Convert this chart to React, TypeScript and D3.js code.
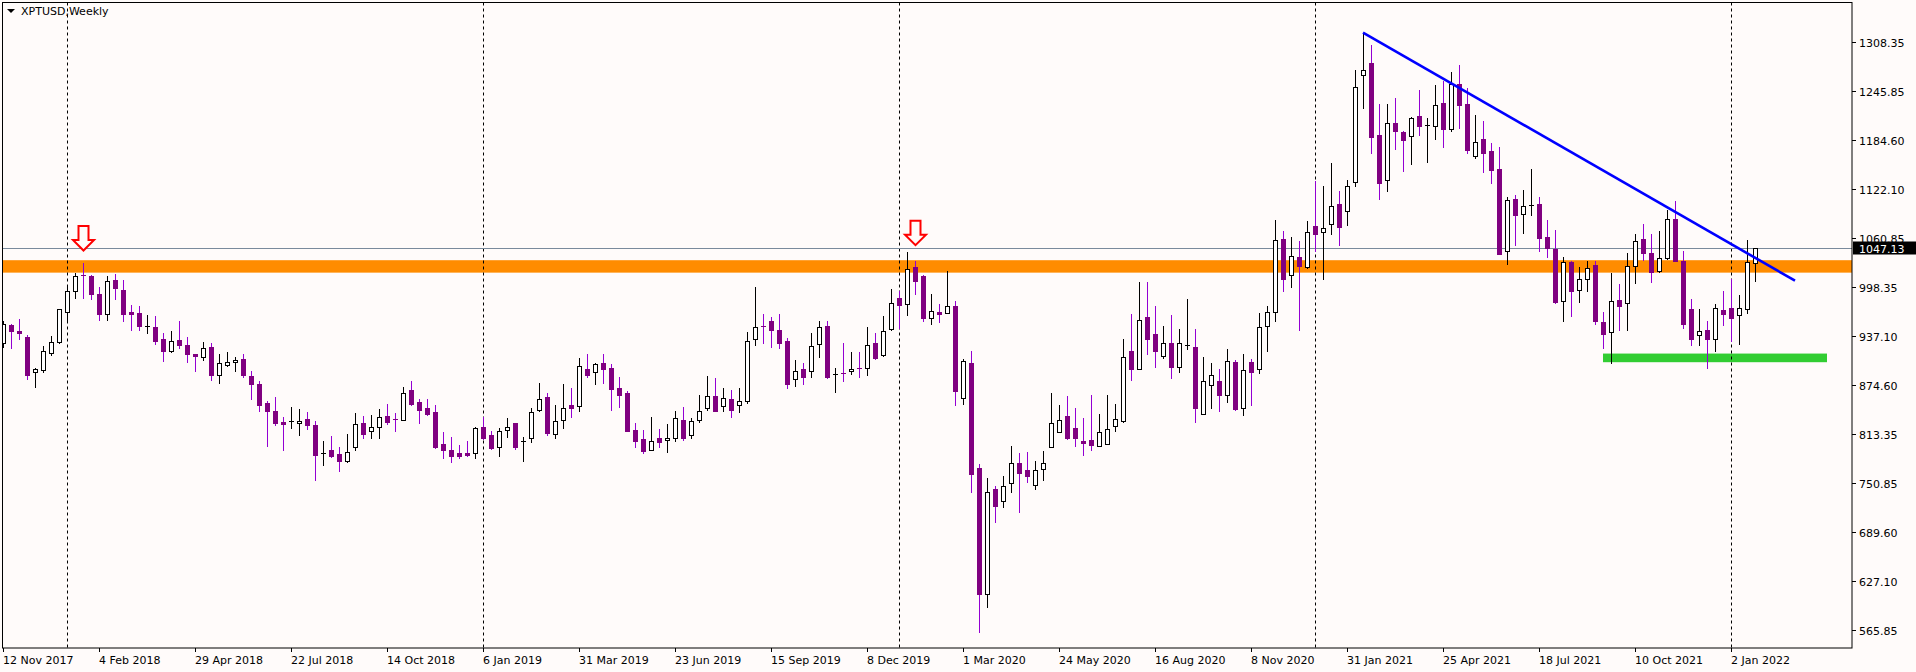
import React from "react";
import * as d3 from "d3";

// Weekly XPTUSD candles starting 12 Nov 2017
const opens = [928,950.6,943.0,935.5,890.6,893.3,914.9,929.5,966.9,992.8,1013.9,1012.3,989.6,964.7,1007.4,994.5,966.3,965.2,949.5,948.5,932.2,917.1,931.1,925.2,913.8,910.6,922.5,886.8,899.7,903.5,907.3,885.7,875.9,852.1,842.4,827.8,828.8,826.1,831.6,824.0,788.3,792.0,787.2,779.1,796.4,827.2,816.4,822.3,835.9,831.6,831.0,868.4,853.8,846.2,840.2,799.6,793.1,788.3,789.3,788.3,821.3,811.5,796.9,817.5,826.1,802.9,807.7,843.5,859.7,812.6,830.5,848.9,847.8,894.9,891.1,901.9,896.0,870.5,864.6,818.0,806.7,792.6,807.2,805.0,807.7,831.0,811.0,830.5,845.6,860.2,847.8,857.5,849.4,854.8,933.3,949.5,955.0,944.1,930.1,881.9,894.3,892.2,926.3,949.5,888.4,890.0,892.2,896.5,896.5,927.9,912.7,945.2,984.7,976.6,1023.1,1012.9,959.8,967.4,965.2,975.0,858.6,903.0,769.3,610.2,743.9,728.7,750.9,776.4,767.2,748.2,768.2,796.4,815.3,835.9,820.7,804.5,805.6,798.0,800.7,822.9,828.8,917.1,895.4,960.4,938.7,911.7,927.9,897.6,925.7,922.5,838.6,874.9,880.3,861.9,903.5,845.1,903.5,894.3,949.5,966.9,1058.9,1013.4,1036.1,1024.2,1075.6,1067.5,1077.8,1102.7,1094.0,1130.8,1266.1,1280.7,1189.8,1133.5,1205.0,1194.2,1188.7,1214.2,1202.8,1202.3,1231.0,1198.5,1254.2,1229.3,1164.4,1185.0,1170.3,1147.1,1043.7,1109.2,1090.2,1102.1,1103.8,1061.6,1047.0,980.4,1029.6,994.5,1009.1,1026.4,953.9,941.4,982.0,977.7,1025.3,1058.9,1041.5,1018.8,1035.1,1083.7,1030.7,971.2,937.6,944.1,932.2,969.6,971.7,963.6,970.1,1028.5];
const highs = [956,952.2,958.2,937.6,896.5,923.6,936.0,971.2,1001.0,1016.1,1029.1,1013.4,998.2,1012.9,1014.5,1007.4,975.5,974.4,962.5,961.4,940.3,943.0,955.0,935.5,914.4,929.5,927.9,914.4,916.0,910.6,913.8,892.2,880.3,854.3,859.7,834.8,846.7,844.0,840.2,829.4,803.4,809.9,796.9,812.6,839.1,835.9,837.0,844.0,850.5,839.7,872.7,879.2,857.5,857.5,849.4,815.3,808.8,799.1,804.5,822.3,834.8,816.4,820.7,833.2,826.7,808.8,845.1,877.6,864.0,848.9,875.9,871.1,908.9,914.4,901.9,913.8,900.8,884.6,867.3,826.1,818.0,834.3,819.7,825.1,841.3,846.7,832.6,861.9,885.7,883.5,870.5,868.4,870.5,941.4,998.2,964.2,960.4,964.2,934.4,906.2,901.9,940.3,956.0,955.0,896.5,927.9,916.0,916.0,948.5,939.8,961.4,995.5,993.9,1042.6,1030.7,1013.4,989.6,976.6,1018.8,980.9,907.3,918.1,774.7,757.4,746.6,760.1,798.0,789.3,790.4,778.5,791.5,865.1,850.0,860.8,845.6,833.2,861.9,838.1,861.9,850.5,933.3,964.2,1005.3,1005.3,975.0,949.5,963.1,945.2,983.1,945.2,910.6,903.0,895.4,919.8,906.2,914.4,907.3,965.8,973.9,1083.2,1068.6,1062.1,1056.7,1081.6,1132.4,1125.4,1155.2,1119.5,1133.5,1272.6,1319.7,1304.0,1229.3,1229.3,1237.5,1195.2,1213.6,1247.2,1212.0,1253.7,1258.0,1269.9,1278.6,1249.9,1215.8,1208.2,1180.1,1175.2,1111.9,1114.6,1121.1,1147.1,1111.9,1083.2,1070.2,1036.1,1031.8,1024.2,1030.7,1031.8,966.9,1015.6,1002.6,1041.5,1064.8,1078.3,1065.9,1068.6,1095.7,1106.5,1043.7,983.1,970.1,956.0,976.6,992.8,1009.1,988.5,1057.8,1047.13];
const lows = [923,921.4,932.2,882.4,872.7,891.1,912.7,927.9,953.9,984.7,984.7,983.6,956.6,956.6,983.1,955.0,944.1,944.1,940.9,926.3,905.1,916.5,921.4,903.5,892.7,906.2,880.8,877.6,899.2,892.2,884.6,857.5,842.4,798.0,824.0,792.6,820.7,811.0,819.7,754.7,774.2,783.9,765.5,776.9,792.6,807.7,808.3,808.3,825.1,817.0,830.0,849.4,826.1,837.0,795.3,782.8,777.4,782.8,785.0,782.8,806.1,794.2,785.6,808.8,793.7,779.1,802.3,842.4,811.0,808.3,820.7,834.3,842.4,884.6,876.5,877.6,843.5,846.7,816.0,796.9,788.3,792.0,796.9,790.4,804.5,805.6,807.7,828.3,843.5,842.4,842.4,834.8,840.2,852.1,925.2,927.9,922.5,920.8,871.1,873.8,876.5,884.6,909.5,883.5,866.2,879.2,888.9,884.6,887.3,907.3,911.7,944.1,946.8,963.6,990.1,956.0,952.2,953.9,965.0,849.4,850.5,739.6,562.6,594.0,701.7,720.1,739.6,714.1,752.0,743.9,754.7,795.8,814.8,806.7,798.0,786.1,792.6,797.5,799.6,816.4,828.3,881.3,894.9,913.8,897.6,908.9,883.5,891.1,920.3,827.8,838.0,845.1,842.4,853.2,842.9,837.0,849.4,890.0,918.2,956.0,992.8,998.2,944.1,1022.6,1044.3,1009.1,1065.9,1051.3,1076.7,1126.5,1223.9,1167.6,1109.2,1120.0,1172.5,1144.4,1154.1,1190.4,1156.3,1185.0,1175.2,1195.2,1199.6,1167.1,1161.7,1143.3,1129.2,1040.0,1026.9,1051.3,1067.0,1089.2,1044.3,1036.1,977.7,956.0,962.0,979.3,992.8,952.2,920.8,903.0,944.1,944.1,1003.7,1032.9,1004.7,1018.0,1033.4,1030.7,946.8,925.2,924.6,896.5,918.2,950.6,930.6,926.8,965.8,1006.4];
const closes = [952,942.5,940.3,887.3,894.3,917.1,929.0,970.1,993.9,1012.8,1011.8,989.6,964.2,1005.8,996.6,964.2,964.7,949.5,949.5,930.1,917.1,930.6,925.7,914.4,911.1,921.9,887.8,901.9,903.5,906.2,886.8,876.5,850.0,841.3,826.1,825.1,828.8,828.8,824.0,786.1,788.3,784.5,779.1,789.9,825.1,813.2,821.3,834.8,827.8,830.5,865.1,851.0,843.5,838.1,795.8,792.0,785.0,785.0,786.1,820.2,807.7,795.3,816.4,821.8,796.9,804.5,840.2,856.4,814.2,828.8,845.1,845.6,898.1,887.3,900.8,895.4,870.0,862.4,816.4,803.4,791.0,803.4,802.3,807.7,832.6,807.2,828.8,842.4,861.3,842.4,858.6,843.5,854.8,930.6,948.5,947.4,944.1,927.9,876.5,892.7,884.6,923.6,947.4,884.6,888.4,888.4,894.9,894.3,925.7,908.4,943.0,978.8,976.1,1021.0,1006.4,959.8,967.9,964.7,975.0,866.7,904.6,762.3,610.7,739.6,721.7,746.6,775.8,763.9,759.6,767.2,776.4,826.1,830.5,808.3,807.2,801.2,799.1,815.9,819.1,831.6,910.0,895.4,956.6,932.2,917.1,927.9,897.6,927.9,925.7,845.1,880.3,887.8,862.4,904.6,844.0,893.8,891.1,947.9,966.9,1057.8,1009.1,1037.2,1025.3,1067.5,1065.9,1072.9,1100.5,1074.5,1125.4,1251.5,1272.6,1187.7,1129.2,1206.1,1195.8,1183.9,1212.0,1201.7,1202.8,1228.3,1198.5,1255.3,1228.3,1170.9,1181.2,1167.6,1146.5,1040.5,1108.1,1089.2,1101.1,1102.1,1060.5,1048.0,979.3,1029.6,993.9,1009.1,1022.6,956.0,938.7,980.9,975.0,1025.3,1056.2,1041.5,1017.2,1034.5,1083.7,1031.8,952.2,933.3,942.5,932.2,972.3,964.7,959.3,971.7,1029.6,1047.13];

const dateLabels = ["12 Nov 2017","4 Feb 2018","29 Apr 2018","22 Jul 2018","14 Oct 2018","6 Jan 2019","31 Mar 2019","23 Jun 2019","15 Sep 2019","8 Dec 2019","1 Mar 2020","24 May 2020","16 Aug 2020","8 Nov 2020","31 Jan 2021","25 Apr 2021","18 Jul 2021","10 Oct 2021","2 Jan 2022"];
const dateLabelIdx = [0,12,24,36,48,60,72,84,96,108,120,132,144,156,168,180,192,204,216];
const priceTicks = [1308.35,1245.85,1184.60,1122.10,1060.85,998.35,937.10,874.60,813.35,750.85,689.60,627.10,565.85];
const separatorIdx = [8,60,112,164,216];

const lastPrice = 1047.13;
const resistanceZone = [1016.6, 1032.3];
const supportZone = [903.5, 914.4];
const supportZoneIdx = [200, 228];
const trendIdx = [170, 224];
const trendPrice = [1319.7, 1006.4];
const arrowIdx = [10, 114];
const arrowPrice = [1043.9, 1050.7];

const W = 1916, H = 672;
const L = 2.5, T = 2.5, R = 1852, B = 648;
const FONT = "'DejaVu Sans', Verdana, sans-serif";

export default function App() {
  const x = d3.scaleLinear().domain([0, 1]).range([3, 11]);
  const y = d3.scaleLinear().domain([542.6, 1358.35]).range([648, 2]);
  const bearBody = "#800080";
  const bearWick = "#9400D3";

  const candles = opens.map((o, i) => {
    const c = closes[i], h = highs[i], l = lows[i];
    const cx = Math.round(x(i));
    const top = Math.round(y(Math.max(o, c)));
    const bot = Math.round(y(Math.min(o, c)));
    const yh = Math.round(y(h)), yl = Math.round(y(l));
    const bull = c >= o;
    const wick = (
      <line key={"w" + i} x1={cx + 0.5} x2={cx + 0.5} y1={yh} y2={yl + 1}
        stroke={bull ? "#000" : bearWick} strokeWidth={1} />
    );
    let body;
    if (bot - top <= 1) {
      body = <rect key={"b" + i} x={cx - 2} y={top} width={5} height={1} fill={bull ? "#000" : bearBody} />;
    } else if (bull) {
      body = <rect key={"b" + i} x={cx - 1.5} y={top + 0.5} width={4} height={bot - top} fill="#fff" stroke="#000" strokeWidth={1} />;
    } else {
      body = <rect key={"b" + i} x={cx - 2} y={top} width={5} height={bot - top + 1} fill={bearBody} />;
    }
    return <g key={i}>{wick}{body}</g>;
  });

  const yLast = Math.round(y(lastPrice)) + 0.5;

  return (
    <div style={{ position: "fixed", left: 0, top: 0, width: W, height: H }}>
      <svg width={W} height={H} style={{ display: "block" }} fontFamily={FONT}>
        <rect x={0} y={0} width={W} height={H} fill="#FFFBFA" />
        <defs>
          <clipPath id="plot"><rect x={L} y={T} width={R - L} height={B - T} /></clipPath>
        </defs>
        <g clipPath="url(#plot)">
          {/* resistance zone */}
          <rect x={L} width={R - L} y={y(resistanceZone[1])} height={y(resistanceZone[0]) - y(resistanceZone[1])} fill="#FF8C00" />
          {/* support zone */}
          <rect x={x(supportZoneIdx[0])} width={x(supportZoneIdx[1]) - x(supportZoneIdx[0])}
            y={y(supportZone[1])} height={y(supportZone[0]) - y(supportZone[1])} fill="#32CD32" />
          {separatorIdx.map((i) => (
            <line key={"s" + i} x1={Math.round(x(i)) + 0.5} x2={Math.round(x(i)) + 0.5} y1={T} y2={B}
              stroke="#000" strokeWidth={1} strokeDasharray="3,3" />
          ))}
          <line x1={L} x2={R} y1={yLast} y2={yLast} stroke="#7A8A9C" strokeWidth={1} />
          {candles}
          <line x1={x(trendIdx[0])} y1={y(trendPrice[0])} x2={x(trendIdx[1])} y2={y(trendPrice[1])}
            stroke="#0000FF" strokeWidth={2.6} />
          {arrowIdx.map((i, k) => {
            const cx = x(i) + 0.5, ty = y(arrowPrice[k]);
            const d = `M${cx - 5},${ty - 25} L${cx + 5},${ty - 25} L${cx + 5},${ty - 11} L${cx + 10.5},${ty - 11} L${cx},${ty - 0.5} L${cx - 10.5},${ty - 11} L${cx - 5},${ty - 11} Z`;
            return <path key={"a" + i} d={d} fill="#FFFBFA" stroke="#FF0000" strokeWidth={2} strokeLinejoin="miter" />;
          })}
        </g>
        {/* border */}
        <rect x={L} y={T} width={R - L} height={B - T} fill="none" stroke="#000" strokeWidth={1} />
        {/* title */}
        <path d="M7,9 L15,9 L11,13 Z" fill="#000" />
        <text x={21} y={14.5} fontSize={11} fill="#000">XPTUSD,Weekly</text>
        {/* price axis */}
        {priceTicks.map((p) => {
          const py = Math.round(y(p)) + 0.5;
          return (
            <g key={"p" + p}>
              <line x1={R} x2={R + 4} y1={py} y2={py} stroke="#000" />
              <text x={R + 7} y={py + 4} fontSize={11} fill="#000">{p.toFixed(2)}</text>
            </g>
          );
        })}
        <rect x={R + 1} y={yLast - 7} width={W - R - 1} height={13} fill="#000" />
        <text x={R + 7} y={yLast + 4} fontSize={11} fill="#fff">{lastPrice.toFixed(2)}</text>
        {/* time axis */}
        {dateLabelIdx.map((i, k) => {
          const tx = Math.round(x(i)) + 0.5;
          return (
            <g key={"t" + i}>
              <line x1={tx} x2={tx} y1={B} y2={B + 4} stroke="#000" />
              <text x={tx - 0.5} y={664} fontSize={11} fill="#000">{dateLabels[k]}</text>
            </g>
          );
        })}
      </svg>
    </div>
  );
}
